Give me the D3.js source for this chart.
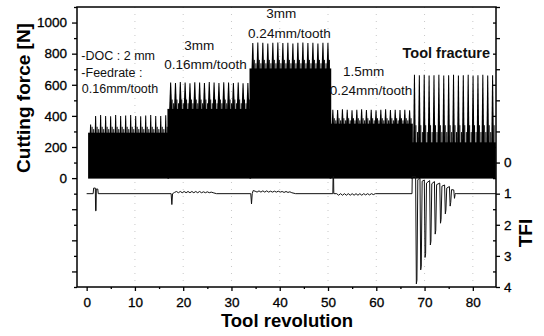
<!DOCTYPE html>
<html><head><meta charset="utf-8">
<script src="https://cdn.jsdelivr.net/npm/d3@7"></script>
<style>body{margin:0;background:#fff}svg{display:block;font-family:"Liberation Sans",Arial,sans-serif}</style>
</head><body><svg id="c" width="544" height="336"></svg>
<script>
// ---------------- data ----------------
const xTicks = [0, 10, 20, 30, 40, 50, 60, 70, 80];
const xMinor = [5, 15, 25, 35, 45, 55, 65, 75];
const forceTicks = [-600, -400, -200, 0, 200, 400, 600, 800, 1000];
const forceMinor = [-700, -500, -300, -100, 100, 300, 500, 700, 900, 1100];
const forceLabelled = [0, 200, 400, 600, 800, 1000];
const tfiTicks = [-5, -4, -3, -2, -1, 0, 1, 2, 3, 4];
const tfiLabelled = [0, 1, 2, 3, 4];

// cutting-force segments (tool revolution span, solid level, comb level) [N]
const segStart = [0.3, 16.9, 33.9, 50.5, 67.4];
const segEnd   = [16.9, 33.9, 50.5, 67.4, 84.6];
const segBase  = [292, 445, 705, 350, 230];
const segMid   = [330, 505, 760, 385, 340];
// peak force of each revolution, per segment [N]
const peaks1 = [345, 400, 405, 400, 398, 405, 400, 402, 405, 400, 398, 402, 405, 400, 400, 404];
const peaks2 = [615, 612, 618, 615, 610, 616, 614, 612, 618, 615, 612, 616, 614, 612, 615, 610, 612];
const peaks3 = [868, 872, 870, 866, 870, 872, 868, 870, 866, 870, 872, 868, 870, 866, 870, 868];
const peaks4 = [440, 438, 442, 440, 436, 440, 442, 438, 440, 436, 440, 442, 438, 440, 438, 440, 436];
const peaks5 = [665, 662, 664, 660, 662, 665, 660, 662, 664, 660, 662, 665, 660, 662, 664, 660, 662];

// TFI trace before the fracture (revolution, TFI)
const tfiRev = [0, 1.35, 1.45, 1.8, 1.85, 1.95, 2.0, 2.3, 2.4,
  17.5, 17.65, 17.8, 18.2, 18.6, 19.0, 19.4, 19.8, 20.2, 20.6, 21.0, 21.4, 21.8, 22.2, 22.6, 23.0,
  23.4, 23.8, 24.2, 24.6, 25.0, 25.4, 25.8, 26.2, 26.9,
  34.0, 34.15, 34.3, 34.5, 34.9, 35.3, 35.7, 36.1, 36.5, 36.9, 37.3, 37.7, 38.1, 38.5, 38.9,
  39.3, 39.7, 40.1, 40.5, 40.9, 41.3, 41.7, 42.1, 42.5, 43.3,
  51.0, 51.05, 51.15, 51.2, 51.8, 52.2, 52.6, 53.0, 53.4, 53.8, 54.2, 54.6, 55.0, 55.4, 55.8,
  56.2, 56.6, 57.0, 57.4, 57.8, 58.2, 58.6, 59.0, 59.4, 59.8, 67.4, 67.45];
const tfiVal = [1, 1, 0.82, 0.82, 1.55, 1.55, 0.85, 0.85, 1,
  1, 1.35, 1.0, 0.96, 0.93, 0.97, 0.93, 0.97, 0.93, 0.97, 0.93, 0.97, 0.93, 0.97, 0.93, 0.97,
  0.93, 0.97, 0.94, 0.97, 0.94, 0.97, 0.95, 0.97, 1,
  1, 1.33, 1.0, 0.9, 0.92, 0.95, 0.91, 0.95, 0.91, 0.95, 0.91, 0.95, 0.92, 0.95, 0.92,
  0.95, 0.92, 0.95, 0.93, 0.96, 0.93, 0.96, 0.94, 0.97, 1,
  1, 0.45, 0.45, 1.0, 1.0, 1.05, 1.0, 1.05, 1.0, 1.05, 1.0, 1.05, 1.0, 1.05, 1.0,
  1.05, 1.0, 1.05, 1.0, 1.04, 1.0, 1.04, 1.0, 1.03, 1.0, 1, 0.45];
// fracture event spikes
const fracRev  = [68.3, 69.2, 70.1, 71.2, 72.2, 73.3, 74.3, 75.3, 76.2];
const fracDown = [3.9, 3.45, 3.05, 2.65, 2.3, 1.95, 1.65, 1.4, 1.15];
const fracUp   = [0.45, 0.5, 0.56, 0.58, 0.61, 0.66, 0.72, 0.77, 0.88];
const tfiEnd = [[76.6, 1], [84.8, 1]];

// annotations (text, revolution, force)
const annText = ["-DOC : 2 mm", "-Feedrate :", "0.16mm/tooth", "3mm", "0.16mm/tooth", "3mm", "0.24mm/tooth", "1.5mm", "0.24mm/tooth", "Tool fracture"];
const annRev  = [-1.1, -1.1, -1.0, 23.3, 24.6, 40.3, 42.0, 57.4, 58.9, 74.5];
const annF    = [760, 650, 545, 823, 701, 1029, 900, 656, 534, 772];

// ---------------- layout / style ----------------
const W = 544, H = 336, m = {l: 77, r: 48, t: 7, b: 49};
const annSize   = [12.5, 12.5, 12.5, 13.5, 13.5, 13.5, 13.5, 13.5, 13.5, 14.5];
const annAnchor = ["start", "start", "start", "middle", "middle", "middle", "middle", "middle", "middle", "middle"];
const annWeight = ["normal", "normal", "normal", "normal", "normal", "normal", "normal", "normal", "normal", "bold"];
const spikeW = [1.8, 3.0, 2.6, 2.4, 2.6];

const x  = d3.scaleLinear().domain([-2, 84.8]).range([m.l, W - m.r]);
const yF = d3.scaleLinear().domain([-700, 1100]).range([H - m.b, m.t]);
const yT = d3.scaleLinear().domain([-5, 4]).range([m.t, H - m.b]);

const svg = d3.select('#c');
svg.append('defs').append('clipPath').attr('id', 'clip')
  .append('rect').attr('x', m.l).attr('y', m.t).attr('width', W - m.l - m.r).attr('height', H - m.t - m.b);

// faint dotted grid
svg.append('g').selectAll('line').data(xTicks.slice(1)).join('line')
  .attr('x1', d => x(d)).attr('x2', d => x(d)).attr('y1', m.t).attr('y2', H - m.b)
  .attr('stroke', '#c8c8c8').attr('stroke-width', 1).attr('stroke-dasharray', '1,6');

const plot = svg.append('g').attr('clip-path', 'url(#clip)');

// force signal
const allPeaks = [peaks1, peaks2, peaks3, peaks4, peaks5];
segStart.forEach((s0, k) => {
  const s1 = segEnd[k], base = segBase[k], mid = segMid[k], pk = allPeaks[k];
  const step = (s1 - s0) / pk.length;
  const x0 = k === 0 ? x(s0) : x(s0) - 0.8;
  plot.append('rect').attr('x', x0).attr('width', x(s1) - x0 + 0.8)
    .attr('y', yF(base)).attr('height', yF(0) - yF(base) + 0.5).attr('fill', '#000');
  const g = plot.append('g');
  pk.forEach((p, i) => {
    const xc = x(s0 + (i + 0.5) * step), w = spikeW[k];
    g.append('path')
      .attr('d', `M${xc - w / 2},${yF(base) + 1}L${xc - 0.5},${yF(p)}L${xc + 0.5},${yF(p)}L${xc + w / 2},${yF(base) + 1}Z`)
      .attr('fill', '#000');
    [[0.3, 1], [0.62, 0.6]].forEach(([f, h]) => {
      const xt = x(s0 + (i + 0.5 + f) * step);
      if (xt < x(s1) - 0.5) {
        g.append('line').attr('x1', xt).attr('x2', xt)
          .attr('y1', yF(base) + 1).attr('y2', yF(base + (mid - base) * h))
          .attr('stroke', '#000').attr('stroke-width', 1);
      }
    });
  });
});

// TFI trace
const tfiPts = tfiRev.map((r, i) => [r, tfiVal[i]]);
fracRev.forEach((r, k) => {
  tfiPts.push([r - 0.15, fracUp[k]], [r, fracDown[k]], [r + 0.12, fracDown[k] - 0.12], [r + 0.3, fracUp[k] + 0.1]);
});
tfiEnd.forEach(p => tfiPts.push(p));
const line = d3.line().x(d => x(d[0])).y(d => yT(d[1]));
plot.append('path').datum(tfiPts).attr('d', line)
  .attr('fill', 'none').attr('stroke', '#111').attr('stroke-width', 1);

// axes
const axStyle = g => { g.select('.domain').remove(); g.selectAll('line').attr('stroke', '#000').attr('stroke-width', 1.3);
  g.selectAll('text').attr('font-size', 13.5).attr('fill', '#000').attr('stroke', '#000').attr('stroke-width', 0.3)
    .attr('font-family', '"Liberation Sans",Arial,sans-serif'); };

svg.append('g').attr('transform', `translate(0,${H - m.b})`)
  .call(d3.axisBottom(x).tickValues(xTicks).tickSize(4).tickPadding(6).tickFormat(d3.format('d'))).call(axStyle);
svg.append('g').attr('transform', `translate(0,${H - m.b})`)
  .call(d3.axisBottom(x).tickValues(xMinor).tickSize(2).tickFormat('')).call(axStyle);

svg.append('g').attr('transform', `translate(${m.l},0)`)
  .call(d3.axisLeft(yF).tickValues(forceTicks).tickSize(5).tickPadding(5)
    .tickFormat(d => forceLabelled.includes(d) ? d : '')).call(axStyle);
svg.append('g').attr('transform', `translate(${m.l},0)`)
  .call(d3.axisLeft(yF).tickValues(forceMinor).tickSize(3).tickFormat('')).call(axStyle);

svg.append('g').attr('transform', `translate(${W - m.r},0)`)
  .call(d3.axisRight(yT).tickValues(tfiTicks).tickSize(4).tickPadding(4)
    .tickFormat(d => tfiLabelled.includes(d) ? d : '')).call(axStyle);
svg.append('g').attr('transform', `translate(${W - m.r},0)`)
  .call(d3.axisRight(yT).tickValues(tfiTicks.slice(0, -1).map(d => d + 0.5)).tickSizeInner(-3).tickSizeOuter(0).tickFormat('')).call(axStyle);

// frame
svg.append('rect').attr('x', m.l).attr('y', m.t).attr('width', W - m.l - m.r).attr('height', H - m.t - m.b)
  .attr('fill', 'none').attr('stroke', '#000').attr('stroke-width', 1.5);

// annotations
svg.append('g').selectAll('text').data(annText).join('text')
  .attr('x', (d, i) => x(annRev[i])).attr('y', (d, i) => yF(annF[i]))
  .attr('text-anchor', (d, i) => annAnchor[i]).attr('font-size', (d, i) => annSize[i])
  .attr('font-weight', (d, i) => annWeight[i]).attr('fill', '#111').text(d => d);

// axis titles
svg.append('text').attr('transform', 'translate(30,98) rotate(-90)').attr('text-anchor', 'middle')
  .attr('font-size', 19).attr('font-weight', 'bold').text('Cutting force [N]');
svg.append('text').attr('transform', 'translate(532,233) rotate(-90)').attr('text-anchor', 'middle')
  .attr('font-size', 19).attr('font-weight', 'bold').text('TFI');
svg.append('text').attr('x', 287).attr('y', 327).attr('text-anchor', 'middle')
  .attr('font-size', 18.5).attr('font-weight', 'bold').text('Tool revolution');
</script></body></html>
